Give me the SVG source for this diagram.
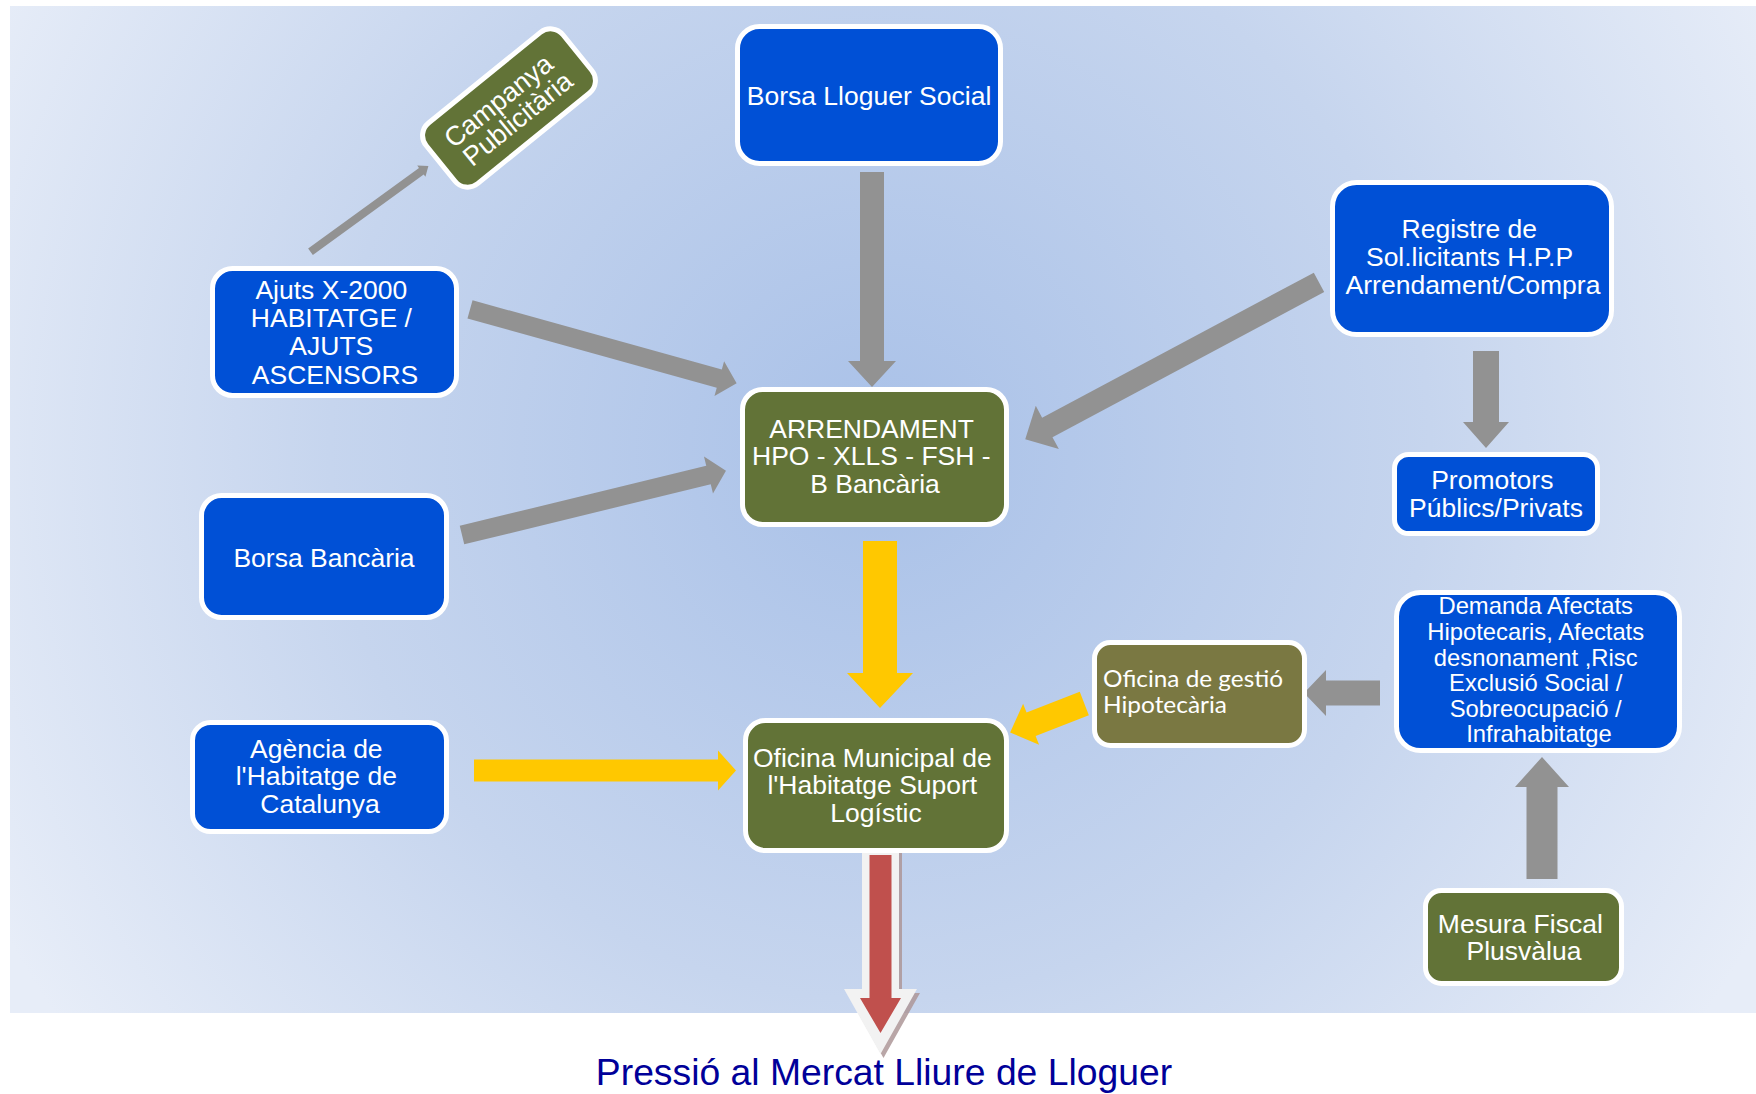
<svg xmlns="http://www.w3.org/2000/svg" width="1756" height="1094" viewBox="0 0 1756 1094">
  <defs>
    <radialGradient id="bg" gradientUnits="userSpaceOnUse" cx="880" cy="450" r="1000">
      <stop offset="0" stop-color="#a9c1e8"/>
      <stop offset="0.55" stop-color="#c6d5ee"/>
      <stop offset="1" stop-color="#e7edf8"/>
    </radialGradient>
    <style>
      .node { stroke: #ffffff; stroke-width: 5; }
      .blue { fill: #0050d6; }
      .green { fill: #627337; }
      .olive { fill: #7a7842; }
      .lbl { font-family: "Liberation Sans", Arial, sans-serif; font-size: 26.5px; fill: #ffffff; text-anchor: middle; }
      .small { font-size: 23.8px; }
      .cal { font-family: Lato, "Open Sans", sans-serif; font-size: 24px; fill: #ffffff; }
      .gray { fill: #929292; }
      .yellow { fill: #ffc800; }
    </style>
  </defs>

  <!-- backdrop -->
  <rect x="0" y="0" width="1756" height="1094" fill="#ffffff"/>
  <rect x="10" y="6" width="1746" height="1007" fill="url(#bg)"/>

  <!-- connectors: block arrows drawn along +x from the tail, then placed -->
  <g id="connectors">
    <path class="gray" transform="translate(310.5,251.7) rotate(-36)" d="M0,-4 H137 V-7 L145.7,0 L137,7 V4 H0 Z"/>
    <path class="gray" transform="translate(872,172) rotate(90)" d="M0,-12 H189 V-24 L215,0 L189,24 V12 H0 Z"/>
    <path class="gray" transform="translate(470,309.4) rotate(15.5)" d="M0,-9.5 H258.7 V-18 L276.7,0 L258.7,18 V9.5 H0 Z"/>
    <path class="gray" transform="translate(462,535.1) rotate(-13.7)" d="M0,-9.5 H253.7 V-19 L271.7,0 L253.7,19 V9.5 H0 Z"/>
    <path class="gray" transform="translate(1319,282.4) rotate(151.9)" d="M0,-11 H308 V-24.5 L333,0 L308,24.5 V11 H0 Z"/>
    <path class="gray" transform="translate(1486,351) rotate(90)" d="M0,-13 H71 V-23 L97,0 L71,23 V13 H0 Z"/>
    <path class="yellow" transform="translate(880,541) rotate(90)" d="M0,-17 H132 V-33 L167,0 L132,33 V17 H0 Z"/>
    <path class="yellow" transform="translate(1084.3,703.5) rotate(158.7)" d="M0,-12.5 H57.1 V-22 L79.6,0 L57.1,22 V12.5 H0 Z"/>
    <path class="yellow" transform="translate(474,770.5)" d="M0,-11 H244 V-20 L262,0 L244,20 V11 H0 Z"/>
    <path class="gray" transform="translate(1380,693) rotate(180)" d="M0,-12.5 H54 V-23 L76,0 L54,23 V12.5 H0 Z"/>
    <path class="gray" transform="translate(1542,879) rotate(-90)" d="M0,-15.5 H92 V-27 L122,0 L92,27 V15.5 H0 Z"/>
    <!-- outlined red arrow with its drop shadow -->
    <g id="pressure-arrow">
      <path fill="#ad9698" opacity="0.85" transform="translate(3,4)" d="M862,847 H899 V989 H917 L880.5,1054 L844,989 H862 Z"/>
      <path fill="#f2f2f2" d="M862,847 H899 V989 H917 L880.5,1054 L844,989 H862 Z"/>
      <path fill="#c0504d" d="M869.5,855 H891.5 V998 H901 L880.5,1033 L860,998 H869.5 Z"/>
    </g>
  </g>

  <g id="campanya" transform="translate(509,108) rotate(-39)">
    <rect class="node green" x="-88" y="-39" width="176" height="78" rx="16"/>
    <text class="lbl" style="font-size:27px">
      <tspan x="0" y="-3">Campanya</tspan>
      <tspan x="0" y="23">Publicitària</tspan>
    </text>
  </g>

  <g id="borsa-lloguer">
    <rect class="node blue" x="737.5" y="26.5" width="263" height="137" rx="22"/>
    <text class="lbl" x="869" y="105">Borsa Lloguer Social</text>
  </g>

  <g id="registre">
    <rect class="node blue" x="1332.5" y="182.5" width="279" height="152" rx="24"/>
    <text class="lbl">
      <tspan x="1473" y="238">Registre de</tspan>
      <tspan x="1473" y="266">Sol.licitants H.P.P</tspan>
      <tspan x="1473" y="294">Arrendament/Compra</tspan>
    </text>
  </g>

  <g id="ajuts">
    <rect class="node blue" x="212.5" y="268.5" width="244" height="127" rx="20"/>
    <text class="lbl">
      <tspan x="335" y="298.5">Ajuts X-2000</tspan>
      <tspan x="335" y="326.5">HABITATGE /</tspan>
      <tspan x="335" y="355">AJUTS</tspan>
      <tspan x="335" y="383.5">ASCENSORS</tspan>
    </text>
  </g>

  <g id="arrendament">
    <rect class="node green" x="742.5" y="389.5" width="264" height="135" rx="20"/>
    <text class="lbl">
      <tspan x="875" y="437.5">ARRENDAMENT</tspan>
      <tspan x="875" y="465">HPO - XLLS - FSH -</tspan>
      <tspan x="875" y="493">B Bancària</tspan>
    </text>
  </g>

  <g id="promotors">
    <rect class="node blue" x="1394.5" y="454.5" width="203" height="79" rx="14"/>
    <text class="lbl">
      <tspan x="1496" y="488.5">Promotors</tspan>
      <tspan x="1496" y="516.5">Públics/Privats</tspan>
    </text>
  </g>

  <g id="borsa-bancaria">
    <rect class="node blue" x="201.5" y="495.5" width="245" height="122" rx="20"/>
    <text class="lbl" x="324" y="566.5">Borsa Bancària</text>
  </g>

  <g id="demanda">
    <rect class="node blue" x="1396.5" y="592.5" width="283" height="158" rx="24"/>
    <text class="lbl small">
      <tspan x="1539" y="614">Demanda Afectats</tspan>
      <tspan x="1539" y="639.5">Hipotecaris, Afectats</tspan>
      <tspan x="1539" y="665.5">desnonament ,Risc</tspan>
      <tspan x="1539" y="691">Exclusió Social /</tspan>
      <tspan x="1539" y="716.5">Sobreocupació /</tspan>
      <tspan x="1539" y="742">Infrahabitatge</tspan>
    </text>
  </g>

  <g id="oficina-gestio">
    <rect class="node olive" x="1094.5" y="642.5" width="210" height="103" rx="16"/>
    <text class="cal">
      <tspan x="1103" y="687" textLength="180" lengthAdjust="spacingAndGlyphs">Oficina de gestió</tspan>
      <tspan x="1103" y="713" textLength="124" lengthAdjust="spacingAndGlyphs">Hipotecària</tspan>
    </text>
  </g>

  <g id="agencia">
    <rect class="node blue" x="192.5" y="722.5" width="254" height="109" rx="18"/>
    <text class="lbl">
      <tspan x="320" y="757.5">Agència de</tspan>
      <tspan x="320" y="784.5">l'Habitatge de</tspan>
      <tspan x="320" y="813">Catalunya</tspan>
    </text>
  </g>

  <g id="oficina-municipal">
    <rect class="node green" x="745.5" y="720.5" width="261" height="130" rx="20"/>
    <text class="lbl">
      <tspan x="876" y="766.5">Oficina Municipal de</tspan>
      <tspan x="876" y="793.5">l'Habitatge Suport</tspan>
      <tspan x="876" y="822">Logístic</tspan>
    </text>
  </g>

  <g id="mesura">
    <rect class="node green" x="1425.5" y="890.5" width="196" height="93" rx="16"/>
    <text class="lbl">
      <tspan x="1524" y="932.5">Mesura Fiscal</tspan>
      <tspan x="1524" y="959.5">Plusvàlua</tspan>
    </text>
  </g>

  <g id="pressio">
    <text x="884" y="1085" font-family="Liberation Sans, Arial, sans-serif" font-size="37.3" fill="#000099" text-anchor="middle">Pressió al Mercat Lliure de Lloguer</text>
  </g>
</svg>
